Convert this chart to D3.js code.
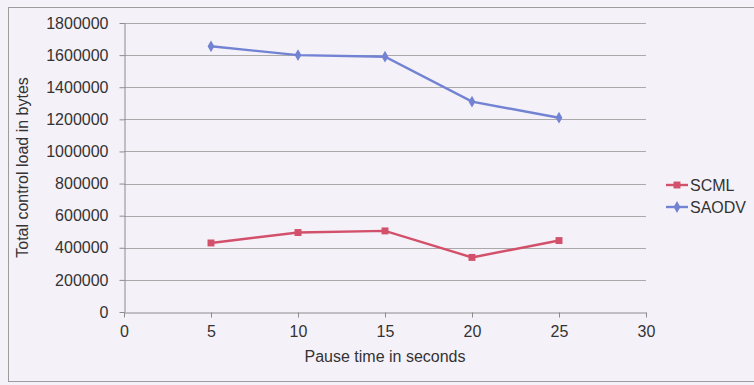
<!DOCTYPE html>
<html>
<head>
<meta charset="utf-8">
<script src="https://cdn.jsdelivr.net/npm/d3@7"></script>
<style>
  html, body { margin: 0; padding: 0; background: #f5f1f9; }
  svg { display: block; font-family: "Liberation Sans", Arial, sans-serif; }
  .axis text { fill: #333; font-size: 16px; }
  .axis path, .axis line { stroke: #8c8c8c; }
  .grid-line { stroke: #a9a9a9; stroke-width: 1; }
  .axis-label { fill: #333; font-size: 16px; }
</style>
</head>
<body>
<svg id="chart" width="754" height="385" viewBox="0 0 754 385"></svg>
<script>
const pauseTimes = [5, 10, 15, 20, 25];
const scmlLoad = [430000, 495000, 505000, 340000, 445000];
const saodvLoad = [1655000, 1600000, 1590000, 1310000, 1210000];
const xTickValues = [0, 5, 10, 15, 20, 25, 30];
const yTickValues = [0, 200000, 400000, 600000, 800000, 1000000, 1200000, 1400000, 1600000, 1800000];
const seriesNames = ["SCML", "SAODV"];

const COLORS = { SCML: "#d3506b", SAODV: "#7183d2" };

function renderChart(svg) {
  const root = d3.select(svg);
  const width = 754;
  const height = 385;
  const margin = { top: 23, right: 108, bottom: 73, left: 124 };

  // chart area frame
  root.append("rect")
    .attr("x", 8.5)
    .attr("y", 7.5)
    .attr("width", 760)
    .attr("height", 374)
    .attr("fill", "none")
    .attr("stroke", "#9c9c9c");

  const xScale = d3.scaleLinear().domain([0, 30]).range([margin.left, width - margin.right]);
  const yScale = d3.scaleLinear().domain([0, 1800000]).range([height - margin.bottom, margin.top]);

  root.append("g")
    .selectAll("line")
    .data(yTickValues.slice(1))
    .join("line")
    .attr("x1", margin.left)
    .attr("x2", width - margin.right)
    .attr("y1", tick => Math.round(yScale(tick)) + 0.5)
    .attr("y2", tick => Math.round(yScale(tick)) + 0.5)
    .attr("class", "grid-line");

  root.append("g")
    .attr("class", "axis axis-x")
    .attr("transform", `translate(0, ${Math.round(yScale(0)) + 0.5})`)
    .call(d3.axisBottom(xScale)
      .tickValues(xTickValues)
      .tickSize(5)
      .tickPadding(8)
      .tickSizeOuter(0));

  root.append("g")
    .attr("class", "axis axis-y")
    .attr("transform", `translate(${margin.left + 0.5}, 0)`)
    .call(d3.axisLeft(yScale)
      .tickValues(yTickValues)
      .tickFormat(d3.format("d"))
      .tickSize(5)
      .tickPadding(11)
      .tickSizeOuter(0));

  const line = d3.line()
    .x(point => xScale(point.x))
    .y(point => yScale(point.y));

  const seriesList = [
    { name: "SCML", values: scmlLoad, marker: d3.symbolSquare, size: 48 },
    { name: "SAODV", values: saodvLoad, marker: d3.symbolDiamond, size: 40 }
  ].map(series => ({
    ...series,
    points: pauseTimes.map((x, i) => ({ x, y: series.values[i] }))
  }));

  const groups = root.append("g")
    .selectAll("g")
    .data(seriesList)
    .join("g");

  groups.append("path")
    .attr("d", series => line(series.points))
    .attr("fill", "none")
    .attr("stroke", series => COLORS[series.name])
    .attr("stroke-width", 2.4);

  groups.selectAll("path.marker")
    .data(series => series.points.map(point => ({ ...point, series })))
    .join("path")
    .attr("class", "marker")
    .attr("transform", point => `translate(${xScale(point.x)}, ${yScale(point.y)})`)
    .attr("d", point => d3.symbol(point.series.marker, point.series.size)())
    .attr("fill", point => COLORS[point.series.name]);

  // legend
  const legend = root.append("g")
    .selectAll("g")
    .data(seriesList)
    .join("g")
    .attr("transform", (_series, index) => `translate(666, ${185 + index * 22})`);

  legend.append("line")
    .attr("x1", 0)
    .attr("x2", 22)
    .attr("stroke", series => COLORS[series.name])
    .attr("stroke-width", 2.4);

  legend.append("path")
    .attr("transform", "translate(11, 0)")
    .attr("d", series => d3.symbol(series.marker, series.size)())
    .attr("fill", series => COLORS[series.name]);

  legend.append("text")
    .attr("x", 24)
    .attr("dy", "0.36em")
    .attr("class", "axis-label")
    .text(series => series.name);

  addChartText(svg, (margin.left + width - margin.right) / 2, 362, "Pause time in seconds", "middle");

  const yTitle = addChartText(svg, 0, 0, "Total control load in bytes", "middle");
  yTitle.setAttribute("transform", `translate(28, ${(margin.top + height - margin.bottom) / 2}) rotate(-90)`);
}

function addChartText(svg, x, y, text, anchor) {
  const node = document.createElementNS("http://www.w3.org/2000/svg", "text");
  node.setAttribute("x", x);
  node.setAttribute("y", y);
  node.setAttribute("text-anchor", anchor);
  node.setAttribute("class", "axis-label");
  node.textContent = text;
  svg.appendChild(node);
  return node;
}

renderChart(document.getElementById("chart"));
</script>
</body>
</html>
